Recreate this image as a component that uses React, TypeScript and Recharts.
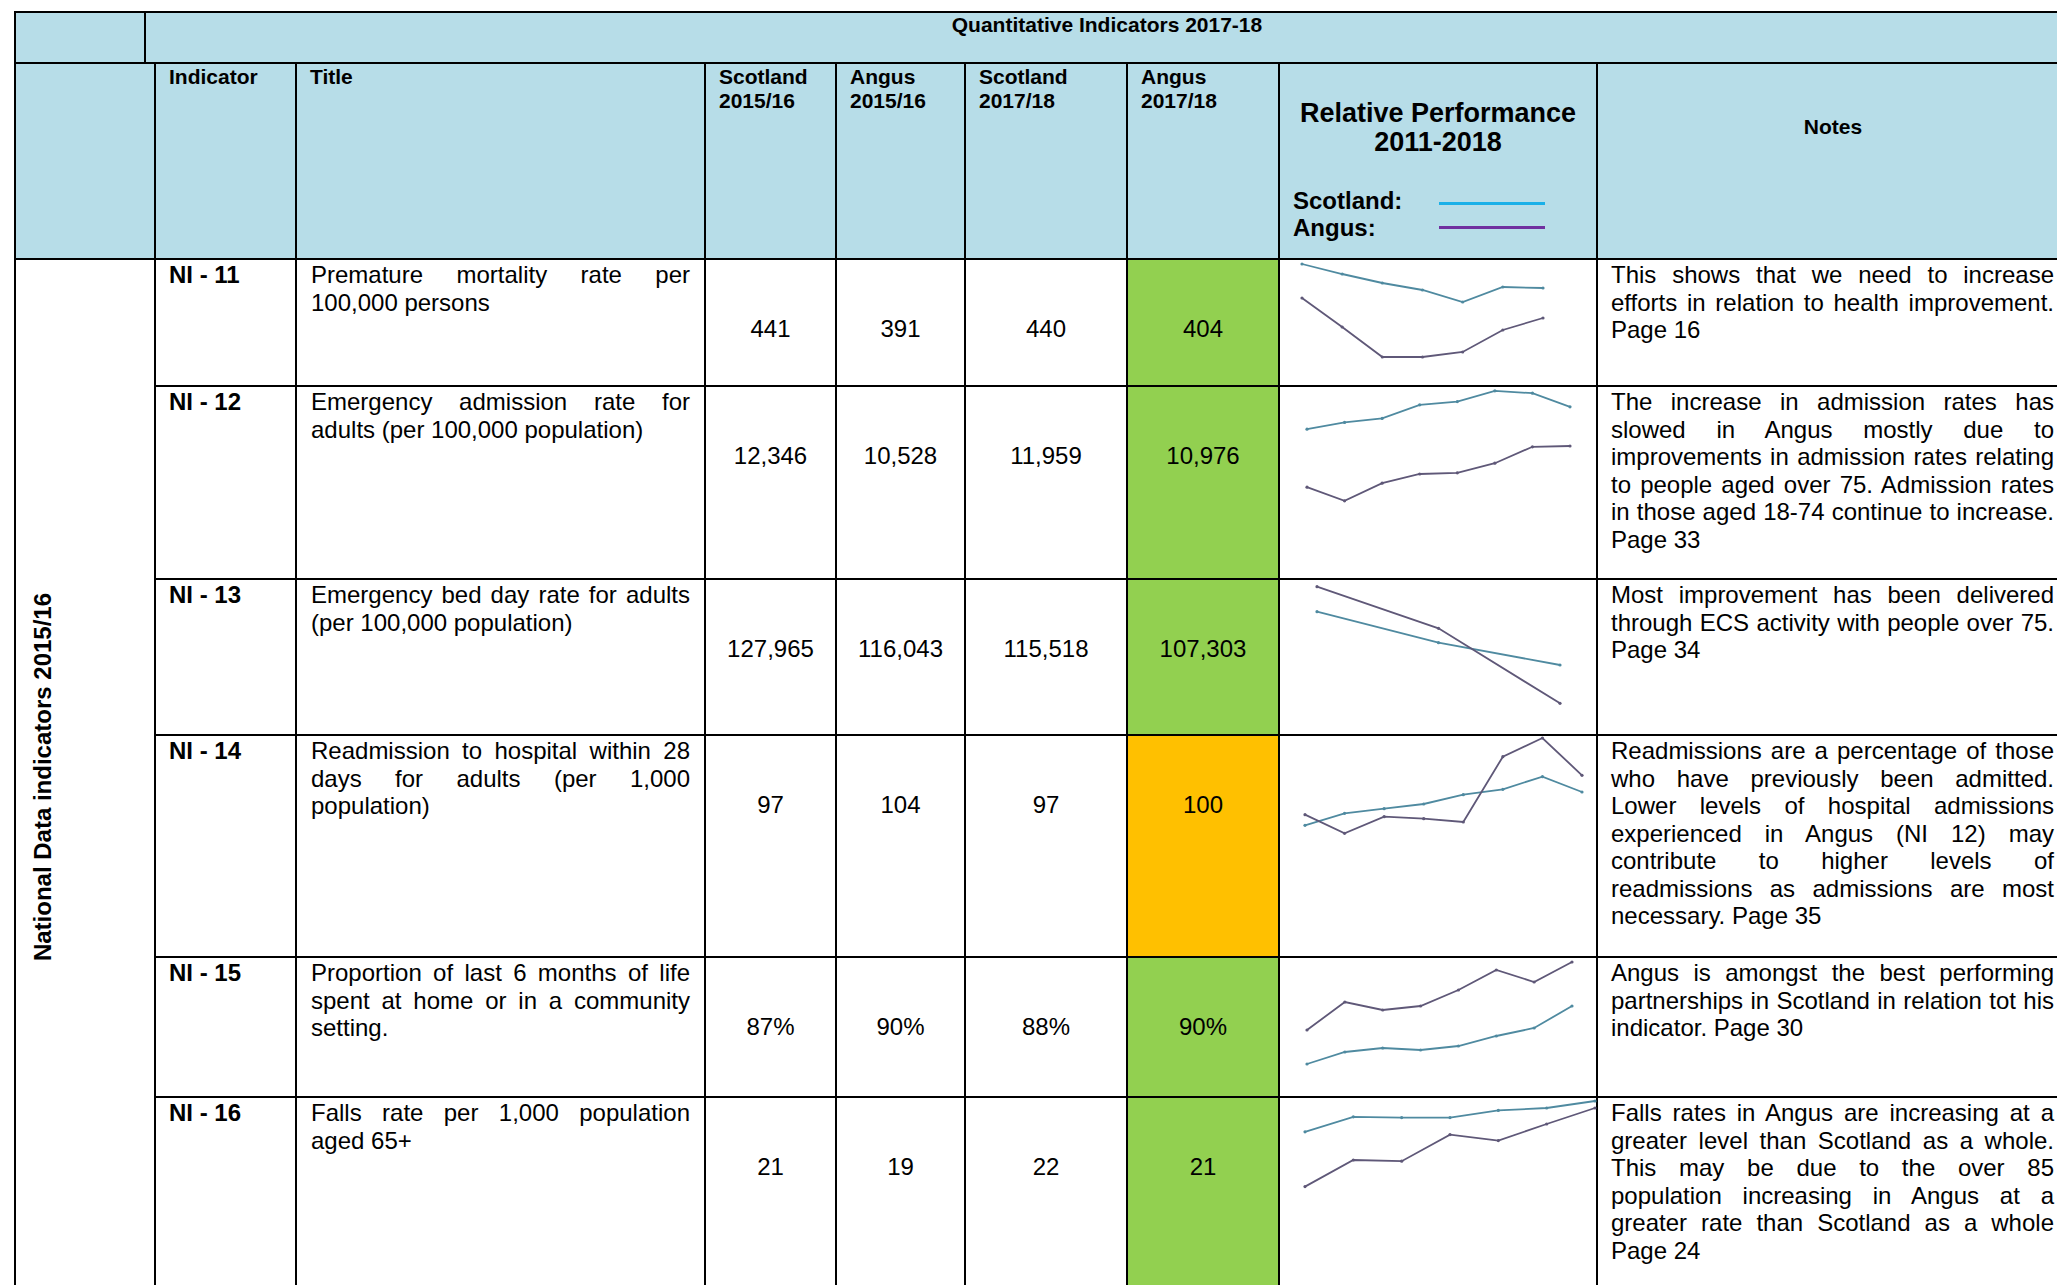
import React from 'react';
import { LineChart, Line, XAxis, YAxis } from 'recharts';

// table text
const indicators = ['NI - 11', 'NI - 12', 'NI - 13', 'NI - 14', 'NI - 15', 'NI - 16'];
const titles = [
  ['Premature mortality rate per', '100,000 persons'],
  ['Emergency admission rate for', 'adults (per 100,000 population)'],
  ['Emergency bed day rate for adults', '(per 100,000 population)'],
  ['Readmission to hospital within 28', 'days for adults (per 1,000', 'population)'],
  ['Proportion of last 6 months of life', 'spent at home or in a community', 'setting.'],
  ['Falls rate per 1,000 population', 'aged 65+'],
];
const scotland1516 = ['441', '12,346', '127,965', '97', '87%', '21'];
const angus1516 = ['391', '10,528', '116,043', '104', '90%', '19'];
const scotland1718 = ['440', '11,959', '115,518', '97', '88%', '22'];
const angus1718 = ['404', '10,976', '107,303', '100', '90%', '21'];
const ratings = ['green', 'green', 'green', 'amber', 'green', 'green'];
const notes = [
  ['This shows that we need to increase', 'efforts in relation to health improvement.', 'Page 16'],
  [
    'The increase in admission rates has',
    'slowed in Angus mostly due to',
    'improvements in admission rates relating',
    'to people aged over 75. Admission rates',
    'in those aged 18-74 continue to increase.',
    'Page 33',
  ],
  ['Most improvement has been delivered', 'through ECS activity with people over 75.', 'Page 34'],
  [
    'Readmissions are a percentage of those',
    'who have previously been admitted.',
    'Lower levels of hospital admissions',
    'experienced in Angus (NI 12) may',
    'contribute to higher levels of',
    'readmissions as admissions are most',
    'necessary. Page 35',
  ],
  ['Angus is amongst the best performing', 'partnerships in Scotland in relation tot his', 'indicator. Page 30'],
  [
    'Falls rates in Angus are increasing at a',
    'greater level than Scotland as a whole.',
    'This may be due to the over 85',
    'population increasing in Angus at a',
    'greater rate than Scotland as a whole',
    'Page 24',
  ],
];

// sparkline series (relative performance 2011-2018)
const ni11Years = [2011, 2012, 2013, 2014, 2015, 2016, 2017];
const ni11Scotland = [481, 471, 462, 455, 443, 458, 457];
const ni11Angus = [447, 418, 388, 388, 393, 415, 427];

const ni12Years = [2011, 2012, 2013, 2014, 2015, 2016, 2017, 2018];
const ni12Scotland = [11670, 11840, 11940, 12280, 12360, 12630, 12570, 12230];
const ni12Angus = [10220, 9880, 10320, 10550, 10580, 10820, 11230, 11250];

const ni13Years = [2013, 2015, 2017];
const ni13Scotland = [130000, 120700, 114000];
const ni13Angus = [137500, 125000, 102500];

const ni14Years = [2011, 2012, 2013, 2014, 2015, 2016, 2017, 2018];
const ni14Scotland = [92.2, 94.0, 94.7, 95.4, 96.8, 97.6, 99.5, 97.2];
const ni14Angus = [93.8, 91.0, 93.5, 93.2, 92.7, 102.5, 105.3, 99.7];

const ni15Years = [2011, 2012, 2013, 2014, 2015, 2016, 2017, 2018];
const ni15Scotland = [86.1, 86.7, 86.9, 86.8, 87.0, 87.5, 87.9, 89.0];
const ni15Angus = [87.8, 89.2, 88.8, 89.0, 89.8, 90.8, 90.2, 91.2];

const ni16Years = [2011, 2012, 2013, 2014, 2015, 2016, 2017];
const ni16Scotland = [19.91, 20.66, 20.62, 20.62, 20.98, 21.1, 21.45];
const ni16Angus = [17.17, 18.5, 18.44, 19.77, 19.47, 20.3, 21.1];

const BLUE = '#b7dde8';
const FILL: Record<string, string> = { green: '#92d050', amber: '#ffc000' };
const SCOT_LINE = '#4f8aa0';
const ANGUS_LINE = '#5f5878';
const FONT = "'Liberation Sans', Arial, Helvetica, sans-serif";

const rowLines = [259, 386, 579, 735, 957, 1097, 1290];
const cols = [15, 155, 296, 705, 836, 965, 1127, 1279, 1597, 2069];

const Box = ({ x1, y1, x2, y2, bg, children, style }: any) => (
  <div
    style={{
      position: 'absolute',
      left: x1 - 1,
      top: y1 - 1,
      width: x2 - x1 + 2,
      height: y2 - y1 + 2,
      border: '2px solid #000',
      boxSizing: 'border-box',
      background: bg || '#fff',
      ...style,
    }}
  >
    {children}
  </div>
);

const Justified = ({ lines }: { lines: string[] }) => (
  <>
    {lines.map((l, i) => (
      <div
        key={i}
        style={{
          textAlign: 'justify',
          textAlignLast: i < lines.length - 1 ? 'justify' : 'left',
          whiteSpace: 'nowrap',
        }}
      >
        {l}
      </div>
    ))}
  </>
);

const Sparkline = ({ years, scotland, angus, domain, row, padLeft, padRight }: any) => {
  const data = years.map((y: number, i: number) => ({ year: y, scotland: scotland[i], angus: angus[i] }));
  const top = rowLines[row];
  const height = rowLines[row + 1] - top;
  return (
    <div style={{ position: 'absolute', left: 1279, top, width: 318, height }}>
      <LineChart width={318} height={height} data={data} margin={{ top: 0, right: padRight, bottom: 0, left: padLeft }}>
        <XAxis dataKey="year" type="number" domain={['dataMin', 'dataMax']} hide />
        <YAxis type="number" domain={domain} allowDataOverflow hide />
        <Line
          dataKey="scotland"
          stroke={SCOT_LINE}
          strokeWidth={1.8}
          dot={{ r: 1.6, fill: SCOT_LINE, stroke: 'none' }}
          isAnimationActive={false}
        />
        <Line
          dataKey="angus"
          stroke={ANGUS_LINE}
          strokeWidth={1.8}
          dot={{ r: 1.6, fill: ANGUS_LINE, stroke: 'none' }}
          isAnimationActive={false}
        />
      </LineChart>
    </div>
  );
};

const headerText: React.CSSProperties = { fontWeight: 'bold', fontSize: 21, lineHeight: '24px', padding: '1px 0 0 13px' };
const bodyText: React.CSSProperties = { fontSize: 24, lineHeight: '27.5px', paddingTop: 1 };

export default function App() {
  return (
    <div
      style={{
        position: 'absolute',
        left: 0,
        top: 0,
        width: 2057,
        height: 1285,
        overflow: 'hidden',
        background: '#fff',
        fontFamily: FONT,
        color: '#000',
      }}
    >
      <style>{'body{margin:0;overflow:hidden}'}</style>

      {/* header row 1 */}
      <Box x1={15} y1={12} x2={145} y2={63} bg={BLUE} />
      <Box x1={145} y1={12} x2={2069} y2={63} bg={BLUE}>
        <div style={{ fontWeight: 'bold', fontSize: 21, lineHeight: '24px', textAlign: 'center' }}>
          Quantitative Indicators 2017-18
        </div>
      </Box>

      {/* header row 2 */}
      <Box x1={15} y1={63} x2={155} y2={259} bg={BLUE} />
      <Box x1={155} y1={63} x2={296} y2={259} bg={BLUE}>
        <div style={headerText}>Indicator</div>
      </Box>
      <Box x1={296} y1={63} x2={705} y2={259} bg={BLUE}>
        <div style={headerText}>Title</div>
      </Box>
      <Box x1={705} y1={63} x2={836} y2={259} bg={BLUE}>
        <div style={headerText}>Scotland<br />2015/16</div>
      </Box>
      <Box x1={836} y1={63} x2={965} y2={259} bg={BLUE}>
        <div style={headerText}>Angus<br />2015/16</div>
      </Box>
      <Box x1={965} y1={63} x2={1127} y2={259} bg={BLUE}>
        <div style={headerText}>Scotland<br />2017/18</div>
      </Box>
      <Box x1={1127} y1={63} x2={1279} y2={259} bg={BLUE}>
        <div style={headerText}>Angus<br />2017/18</div>
      </Box>
      <Box x1={1279} y1={63} x2={1597} y2={259} bg={BLUE}>
        <div
          style={{
            position: 'absolute',
            left: 0,
            right: 0,
            top: 35,
            fontWeight: 'bold',
            fontSize: 27,
            lineHeight: '29px',
            textAlign: 'center',
          }}
        >
          Relative Performance
          <br />
          2011-2018
        </div>
        <div style={{ position: 'absolute', left: 13, top: 123, fontWeight: 'bold', fontSize: 24, lineHeight: '27px' }}>
          Scotland:
          <br />
          Angus:
        </div>
        <div style={{ position: 'absolute', left: 159, top: 138, width: 106, height: 3, background: '#1ab0e8' }} />
        <div style={{ position: 'absolute', left: 159, top: 162, width: 106, height: 3, background: '#7030a0' }} />
      </Box>
      <Box x1={1597} y1={63} x2={2069} y2={259} bg={BLUE}>
        <div
          style={{
            position: 'absolute',
            left: 0,
            right: 0,
            top: 51,
            fontWeight: 'bold',
            fontSize: 21,
            lineHeight: '24px',
            textAlign: 'center',
          }}
        >
          Notes
        </div>
      </Box>

      {/* left merged cell */}
      <Box x1={15} y1={259} x2={155} y2={1290} />
      <div
        style={{
          position: 'absolute',
          left: 43,
          top: 777,
          transform: 'translate(-50%, -50%) rotate(-90deg)',
          whiteSpace: 'nowrap',
          fontWeight: 'bold',
          fontSize: 24,
        }}
      >
        National Data indicators 2015/16
      </div>

      {/* data rows */}
      {indicators.map((ind, r) => {
        const y1 = rowLines[r];
        const y2 = rowLines[r + 1];
        const num: React.CSSProperties = { fontSize: 24, lineHeight: '28px', textAlign: 'center', paddingTop: 55 };
        return (
          <React.Fragment key={ind}>
            <Box x1={cols[1]} y1={y1} x2={cols[2]} y2={y2}>
              <div style={{ ...bodyText, fontWeight: 'bold', paddingLeft: 13 }}>{ind}</div>
            </Box>
            <Box x1={cols[2]} y1={y1} x2={cols[3]} y2={y2}>
              <div style={{ ...bodyText, padding: '1px 14px 0 14px' }}>
                <Justified lines={titles[r]} />
              </div>
            </Box>
            <Box x1={cols[3]} y1={y1} x2={cols[4]} y2={y2}>
              <div style={num}>{scotland1516[r]}</div>
            </Box>
            <Box x1={cols[4]} y1={y1} x2={cols[5]} y2={y2}>
              <div style={num}>{angus1516[r]}</div>
            </Box>
            <Box x1={cols[5]} y1={y1} x2={cols[6]} y2={y2}>
              <div style={num}>{scotland1718[r]}</div>
            </Box>
            <Box x1={cols[6]} y1={y1} x2={cols[7]} y2={y2} bg={FILL[ratings[r]]}>
              <div style={num}>{angus1718[r]}</div>
            </Box>
            <Box x1={cols[7]} y1={y1} x2={cols[8]} y2={y2} />
            <Box x1={cols[8]} y1={y1} x2={cols[9]} y2={y2}>
              <div style={{ ...bodyText, padding: '1px 14px 0 13px' }}>
                <Justified lines={notes[r]} />
              </div>
            </Box>
          </React.Fragment>
        );
      })}

      <Sparkline years={ni11Years} scotland={ni11Scotland} angus={ni11Angus} domain={[359, 486]} row={0} padLeft={23} padRight={54} />
      <Sparkline years={ni12Years} scotland={ni12Scotland} angus={ni12Angus} domain={[7925, 12750]} row={1} padLeft={28} padRight={27} />
      <Sparkline years={ni13Years} scotland={ni13Scotland} angus={ni13Angus} domain={[93000, 139800]} row={2} padLeft={38} padRight={37} />
      <Sparkline years={ni14Years} scotland={ni14Scotland} angus={ni14Angus} domain={[72.45, 105.75]} row={3} padLeft={26} padRight={15} />
      <Sparkline years={ni15Years} scotland={ni15Scotland} angus={ni15Angus} domain={[84.45, 91.45]} row={4} padLeft={28} padRight={25} />
      <Sparkline years={ni16Years} scotland={ni16Scotland} angus={ni16Angus} domain={[12.0, 21.65]} row={5} padLeft={26} padRight={2} />
    </div>
  );
}
